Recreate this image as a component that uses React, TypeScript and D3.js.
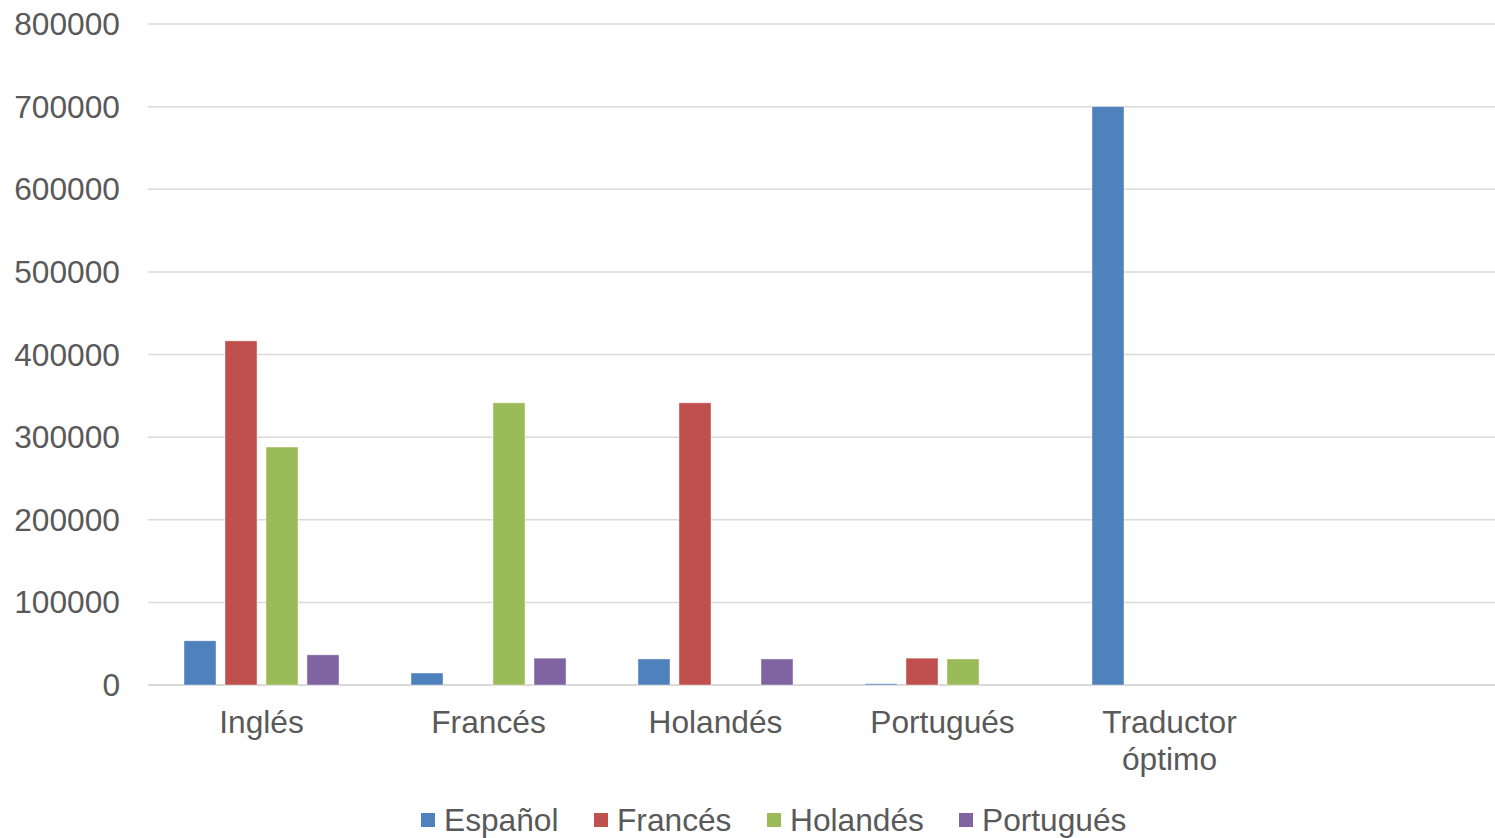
import React from "react";
import * as d3 from "d3";

const categories = ["Inglés", "Francés", "Holandés", "Portugués", "Traductor óptimo", ""];
const seriesNames = ["Español", "Francés", "Holandés", "Portugués"];
const espanol = [53500, 14500, 31500, 1500, 700000, 0];
const frances = [416500, 0, 341500, 32500, 0, 0];
const holandes = [288000, 341500, 0, 31500, 0, 0];
const portugues = [36500, 32500, 31500, 0, 0, 0];
const yTicks = [0, 100000, 200000, 300000, 400000, 500000, 600000, 700000, 800000];
const colors = ["#4f81bd", "#c0504d", "#9bbb59", "#8064a2"];

const W = 1495;
const H = 838;
const left = 148;
const top = 24;
const bottom = 685;
const bandW = 227;

export default function App() {
  const values = [espanol, frances, holandes, portugues];
  const x = d3.scaleBand<string>().domain(categories.map((c, i) => String(i))).range([left, left + bandW * categories.length]).padding(0);
  const xs = d3.scaleBand<string>().domain(seriesNames).range([0, bandW]).paddingInner(9 / 41).paddingOuter(0.878);
  const y = d3.scaleLinear().domain([0, 800000]).range([bottom, top]);
  const textColor = "#595959";
  const font = "'Liberation Sans', Arial, sans-serif";
  const fs = 31.7;

  const legendItems = [
    { name: "Español", sq: 421, tx: 444 },
    { name: "Francés", sq: 594, tx: 617 },
    { name: "Holandés", sq: 767, tx: 790 },
    { name: "Portugués", sq: 959, tx: 982 },
  ];

  return (
    <div style={{ position: "absolute", left: 0, top: 0 }}>
      <svg width={W} height={H} style={{ display: "block", background: "#fff" }}>
        {yTicks.map((t) => (
          <g key={t}>
            <line x1={left} x2={W} y1={y(t)} y2={y(t)} stroke="#d9d9d9" strokeWidth={t === 0 ? 2 : 1.5} />
            <text x={120} y={y(t) + 11} textAnchor="end" fontFamily={font} fontSize={fs} fill={textColor}>
              {t}
            </text>
          </g>
        ))}
        {categories.map((c, ci) =>
          values.map((vals, si) => {
            const v = vals[ci];
            if (!v) return null;
            const bx = (x(String(ci)) as number) + (xs(seriesNames[si]) as number);
            return (
              <rect
                key={ci + "-" + si}
                x={bx}
                y={y(v)}
                width={xs.bandwidth()}
                height={y(0) - y(v)}
                fill={colors[si]}
                stroke="#ffffff"
                strokeOpacity={0.5}
                strokeWidth={0.8}
              />
            );
          })
        )}
        {categories.map((c, ci) => {
          const cx = (x(String(ci)) as number) + bandW / 2;
          const lines = c === "Traductor óptimo" ? ["Traductor", "óptimo"] : [c];
          return (
            <text key={ci} x={cx} y={733} textAnchor="middle" fontFamily={font} fontSize={fs} fill={textColor}>
              {lines.map((l, li) => (
                <tspan key={li} x={cx} dy={li === 0 ? 0 : 37}>
                  {l}
                </tspan>
              ))}
            </text>
          );
        })}
        {legendItems.map((it, i) => (
          <g key={it.name}>
            <rect x={it.sq} y={813} width={14} height={14} fill={colors[i]} />
            <text x={it.tx} y={831} fontFamily={font} fontSize={fs} fill={textColor}>
              {it.name}
            </text>
          </g>
        ))}
      </svg>
    </div>
  );
}
